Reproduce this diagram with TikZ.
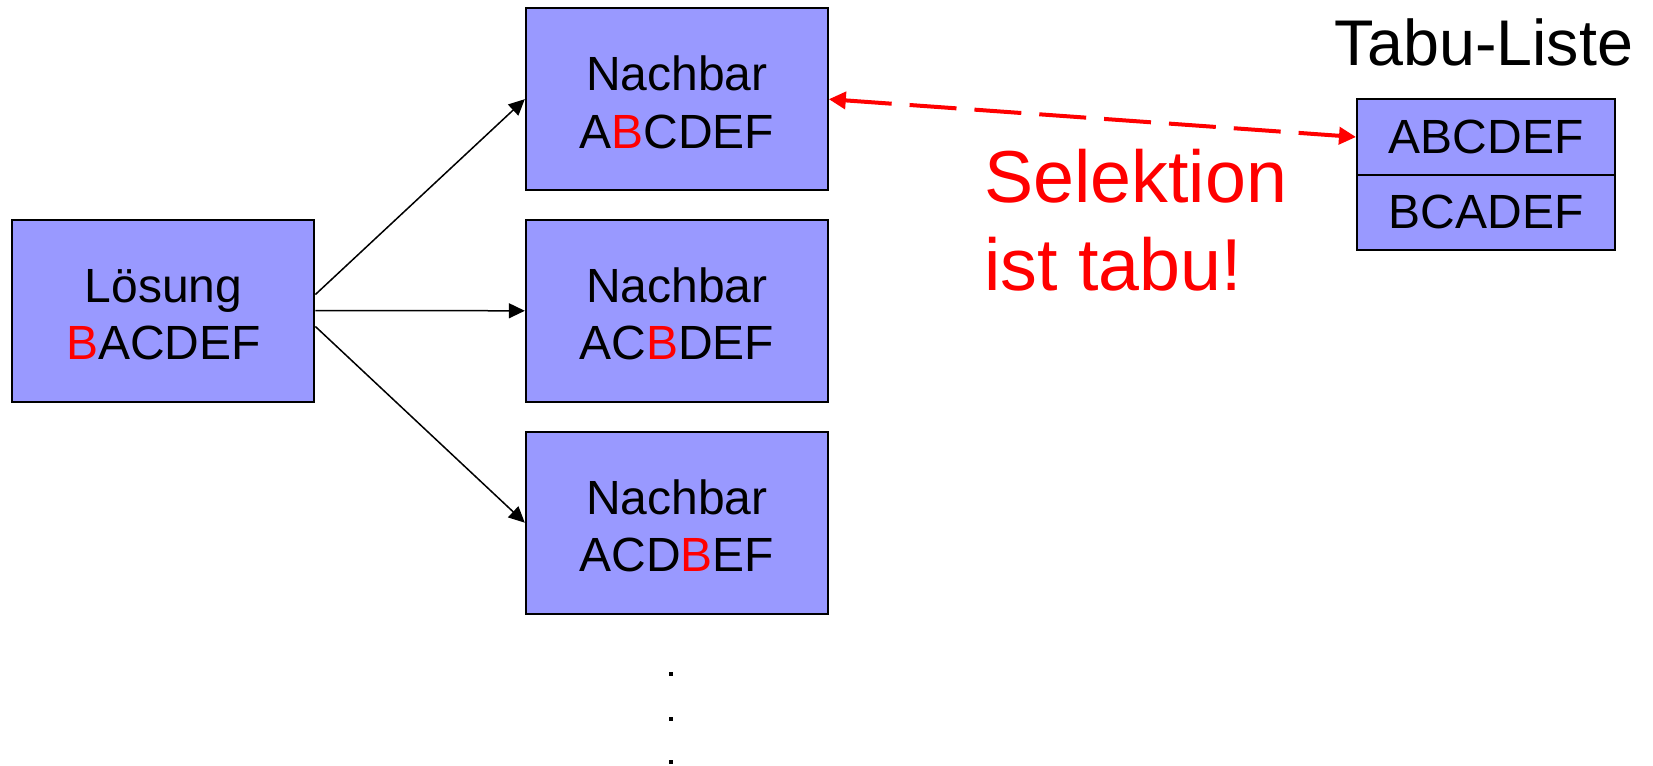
\documentclass[tikz,border=0pt]{standalone}
\usepackage{fontspec}
\setmainfont{Liberation Sans}
\usetikzlibrary{arrows.meta}
\definecolor{boxfill}{HTML}{9999FF}
\definecolor{tabured}{HTML}{FF0000}
\newcommand{\topstrut}{\rule{0pt}{20.5pt}}
\begin{document}
\begin{tikzpicture}[x=0.5pt,y=-0.5pt,
  box/.style={draw=black, line width=1pt, fill=boxfill, inner sep=0pt,
    minimum width=151pt, minimum height=91pt, align=center,
    font=\fontsize{24pt}{28.7pt}\selectfont},
  tabrow/.style={draw=black, line width=1pt, fill=boxfill, inner sep=0pt,
    minimum width=129pt, minimum height=37.5pt,
    font=\fontsize{24pt}{28.7pt}\selectfont},
  arr/.style={draw=black, line width=0.75pt, -{Triangle[length=8pt,width=7.5pt]}},
  redarr/.style={draw=tabured, line width=2pt, dash pattern=on 23.5pt off 9pt,
    {Triangle[length=8.5pt,width=8.5pt]}-{Triangle[length=8.5pt,width=8.5pt]}},
  redtext/.style={text=tabured, inner sep=0pt, font=\fontsize{36.8pt}{44pt}\selectfont},
  dotmark/.style={fill=black, rectangle, inner sep=0pt, minimum size=2.2pt}
]
\useasboundingbox (0,0) rectangle (1653,765);
\node[box] (los) at (163.4,310.5) {\topstrut Lösung\\\textcolor{tabured}{B}ACDEF};
\node[box] (n1) at (676.8,99.2) {\topstrut Nachbar\\A\textcolor{tabured}{B}CDEF};
\node[box] (n2) at (676.8,310.8) {\topstrut Nachbar\\AC\textcolor{tabured}{B}DEF};
\node[box] (n3) at (676.8,522.7) {\topstrut Nachbar\\ACD\textcolor{tabured}{B}EF};
\node[tabrow] (t1) at (1486,137) {ABCDEF};
\node[tabrow] (t2) at (1486,212) {BCADEF};
\node[anchor=base, inner sep=0pt, font=\fontsize{32.3pt}{36pt}\selectfont] (tl) at (1484,66) {Tabu-Liste};
\node[redtext, anchor=base west] (sel1) at (984,202) {Selektion};
\node[redtext, anchor=base west] (sel2) at (984,290) {ist tabu!};
\node[dotmark] (d1) at (671,674) {};
\node[dotmark] (d2) at (671,719) {};
\node[dotmark] (d3) at (671,762) {};
\draw[arr] ([yshift=8pt]los.east) -- (n1.west);
\draw[arr] (los.east) -- (n2.west);
\draw[arr] ([yshift=-8pt]los.east) -- (n3.west);
\draw[redarr] (n1.east) -- (t1.west);
\end{tikzpicture}
\end{document}
